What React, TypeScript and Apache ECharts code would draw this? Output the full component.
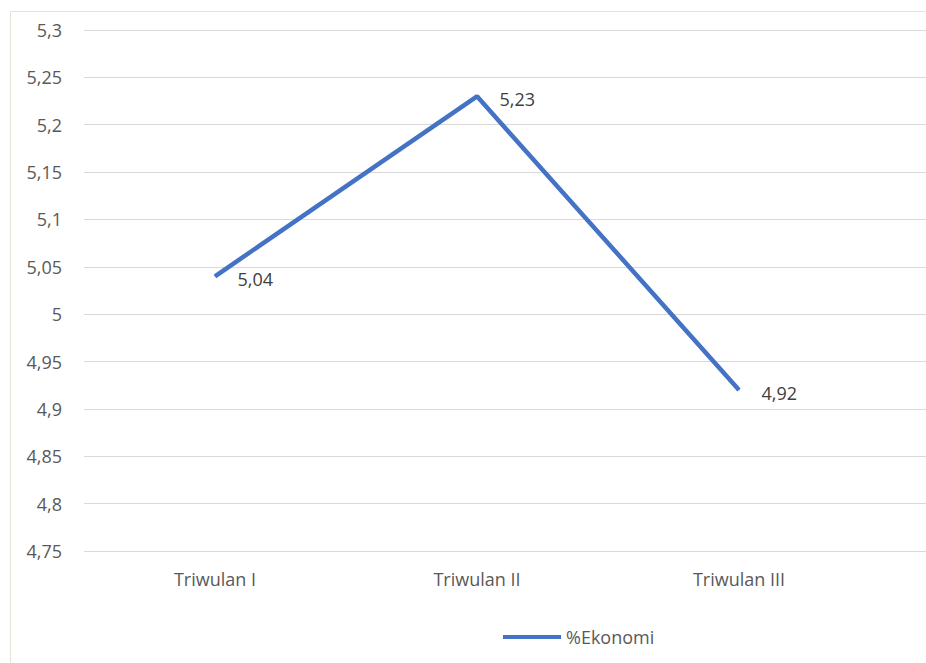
import React, { useEffect, useRef } from "react";
import * as echarts from "echarts";

const categories = ["Triwulan I", "Triwulan II", "Triwulan III"];
const ekonomi = [5.04, 5.23, 4.92];
const seriesName = "%Ekonomi";
const yMin = 4.75;
const yMax = 5.3;
const yStep = 0.05;

const fmt = (v: number) => {
  const r = Math.round(v * 100) / 100;
  return String(r).replace(".", ",");
};

export default function App() {
  const ref = useRef<HTMLDivElement>(null);
  useEffect(() => {
    if (!ref.current) return;
    const chart = echarts.init(ref.current, null, { renderer: "svg" });
    const font = "'Open Sans', 'Noto Sans', sans-serif";
    chart.setOption({
      animation: false,
      backgroundColor: "#ffffff",
      textStyle: { fontFamily: font },
      graphic: [
        {
          type: "rect",
          shape: { x: 10.5, y: 11.5, width: 930, height: 660 },
          style: { fill: "none", stroke: "#e6e2d6", lineWidth: 1 },
          silent: true,
        },
      ],
      legend: {
        left: 498,
        top: 623,
        itemWidth: 58,
        itemHeight: 4,
        itemGap: 10,
        icon: "rect",
        textStyle: { color: "#595959", fontSize: 18, fontFamily: font },
        data: [seriesName],
      },
      grid: [
        { left: 84, right: 0, top: 30, height: 521 },
        { left: 84, width: 786, top: 30, height: 521 },
      ],
      xAxis: [
        {
          gridIndex: 0,
          type: "value",
          min: 0,
          max: 1,
          show: false,
        },
        {
          gridIndex: 1,
          type: "category",
          data: categories,
          boundaryGap: true,
          axisLine: { show: false },
          axisTick: { show: false },
          axisLabel: { color: "#595959", fontSize: 18, margin: 19, fontFamily: font },
        },
      ],
      yAxis: [
        {
          gridIndex: 0,
          type: "value",
          min: yMin,
          max: yMax,
          interval: yStep,
          axisLine: { show: false },
          axisTick: { show: false },
          axisLabel: {
            color: "#595959",
            fontSize: 18,
            margin: 22,
            fontFamily: font,
            formatter: (v: number) => fmt(v),
          },
          splitLine: { lineStyle: { color: "#d9d9d9", width: 1 } },
        },
        {
          gridIndex: 1,
          type: "value",
          min: yMin,
          max: yMax,
          interval: yStep,
          show: false,
          splitLine: { show: false },
        },
      ],
      series: [
        {
          name: seriesName,
          type: "line",
          xAxisIndex: 1,
          yAxisIndex: 1,
          data: ekonomi,
          showSymbol: true,
          symbol: "circle",
          symbolSize: 1,
          lineStyle: { color: "#4472c4", width: 4.5 },
          itemStyle: { color: "#4472c4" },
          label: {
            show: true,
            position: "right",
            distance: 22,
            offset: [0, 3],
            color: "#404040",
            fontSize: 18,
            fontFamily: font,
            formatter: (p: any) => fmt(p.value),
          },
        },
      ],
    });
    return () => chart.dispose();
  }, []);
  return (
    <div
      ref={ref}
      style={{ position: "absolute", left: 0, top: 0, width: 926, height: 663 }}
    />
  );
}
